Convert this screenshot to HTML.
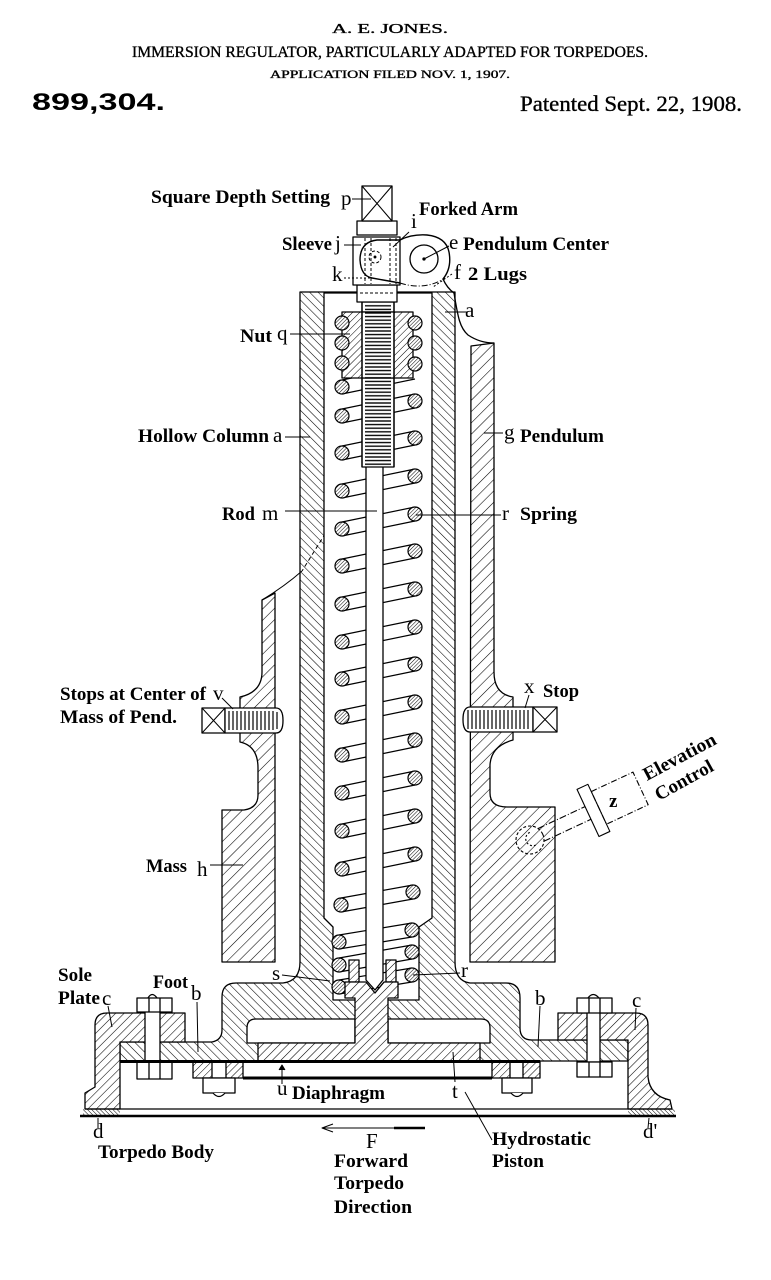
<!DOCTYPE html>
<html><head><meta charset="utf-8">
<style>
html,body{margin:0;padding:0;background:#fff}
svg{display:block}
.L{font-family:"Liberation Serif",serif;font-weight:bold;font-size:19px;fill:#000}
.l{font-family:"Liberation Serif",serif;font-size:21px;fill:#000}
.h{font-family:"Liberation Serif",serif;fill:#000;stroke:#000;stroke-width:0.35}
</style></head>
<body>
<svg width="771" height="1280" viewBox="0 0 771 1280" xmlns="http://www.w3.org/2000/svg">
<defs>
<pattern id="hb" patternUnits="userSpaceOnUse" width="6" height="6" patternTransform="rotate(-45)"><line x1="0" y1="0" x2="0" y2="6" stroke="#000" stroke-width="1.1"/></pattern>
<pattern id="hf" patternUnits="userSpaceOnUse" width="6" height="6" patternTransform="rotate(45)"><rect width="6" height="6" fill="#fff"/><line x1="0" y1="0" x2="0" y2="6" stroke="#000" stroke-width="1.1"/></pattern>
<pattern id="hn" patternUnits="userSpaceOnUse" width="5" height="5" patternTransform="rotate(45)"><rect width="5" height="5" fill="#fff"/><line x1="0" y1="0" x2="0" y2="5" stroke="#000" stroke-width="1"/></pattern>
<pattern id="hm" patternUnits="userSpaceOnUse" width="8" height="8" patternTransform="rotate(45)"><line x1="0" y1="0" x2="0" y2="8" stroke="#000" stroke-width="1.1"/></pattern>
<pattern id="hc" patternUnits="userSpaceOnUse" width="2.6" height="2.6" patternTransform="rotate(45)"><rect width="2.6" height="2.6" fill="#fff"/><line x1="0" y1="0" x2="0" y2="2.6" stroke="#000" stroke-width="1"/></pattern>
<pattern id="hd" patternUnits="userSpaceOnUse" width="3" height="3" patternTransform="rotate(-45)"><line x1="0" y1="0" x2="0" y2="3" stroke="#000" stroke-width="1"/></pattern>
<pattern id="thr" patternUnits="userSpaceOnUse" x="362" y="304" width="32" height="3.6"><line x1="3" y1="1.8" x2="29" y2="1.8" stroke="#000" stroke-width="1.3"/></pattern>
</defs>
<rect width="771" height="1280" fill="#fff"/>

<!-- HEADER -->
<text class="h" x="332" y="33" font-size="14" textLength="116" lengthAdjust="spacingAndGlyphs">A. E. JONES.</text>
<text class="h" x="132" y="57" font-size="16" textLength="516" lengthAdjust="spacingAndGlyphs">IMMERSION REGULATOR, PARTICULARLY ADAPTED FOR TORPEDOES.</text>
<text class="h" x="270" y="78" font-size="11.5" textLength="240" lengthAdjust="spacingAndGlyphs">APPLICATION FILED NOV. 1, 1907.</text>
<text x="32" y="110" font-family="Liberation Sans, sans-serif" font-weight="bold" font-size="24" textLength="133" lengthAdjust="spacingAndGlyphs">899,304.</text>
<text class="h" x="520" y="111" font-size="22" textLength="222" lengthAdjust="spacingAndGlyphs">Patented Sept. 22, 1908.</text>

<g stroke="#000" stroke-width="1.3" fill="none" stroke-linejoin="round">

<!-- pendulum left -->
<path d="M262,600 L275,593 L275,962 L222,962 L222,810 L244,810 Q258,808 258,795 L258,768 Q258,746 240,742 L240,697 Q262,692 262,672 Z" fill="url(#hm)"/>
<!-- pendulum right -->
<path d="M471,346 L494,343 L494,672 Q494,694 513,697 L513,740 Q491,746 490,765 L490,793 Q490,807 507,807 L555,807 L555,962 L470,962 L471,346 Z" fill="url(#hm)"/>
<path d="M454,293 C458,318 460,328 468,335 Q480,343 494,343"/>
<path d="M366,468 L302,571" stroke-dasharray="4,3" stroke-width="1"/>
<path d="M302,571 Q285,586 262,600" stroke-width="1"/>

<!-- column casting -->
<path d="M300,292 L455,292 L455,962 Q455,981 470,983 L506,983 Q520,983 520,998 L520,1028 Q520,1040 532,1040 L628,1040 L628,1061 L120,1061 L120,1042 L212,1042 Q222,1040 222,1030 L222,997 Q222,983 236,983 L283,983 Q300,981 300,962 Z" fill="url(#hb)"/>
<!-- cavity -->
<path d="M324,293 L432,293 L432,918 L419,927 L419,1000 L333,1000 L333,927 L324,918 Z" fill="#fff"/>
<!-- channel -->
<path d="M247,1043 L247,1028 Q247,1019 256,1019 L355,1019 L355,1043 Z" fill="#fff"/>
<path d="M388,1043 L388,1019 L481,1019 Q490,1019 490,1028 L490,1043 Z" fill="#fff"/>

<!-- spring back lines -->
<g stroke-width="1.2">
<path d="M342,380 L415,365 M342,394 L415,379
M342,409 L415,394 M342,423 L415,408
M342,446 L415,431 M342,460 L415,445
M342,484 L415,469 M342,498 L415,483
M342,522 L415,507 M342,536 L415,521
M342,559 L415,544 M342,573 L415,558
M342,597 L415,582 M342,611 L415,596
M342,635 L415,620 M342,649 L415,634
M342,672 L415,657 M342,686 L415,671
M342,710 L415,695 M342,724 L415,709
M342,748 L415,733 M342,762 L415,747
M342,786 L415,771 M342,800 L415,785
M342,824 L415,809 M342,838 L415,823
M342,862 L415,847 M342,876 L415,861
M341,898 L413,885 M341,912 L413,899
M339,935 L412,923 M339,949 L412,937
M339,958 L412,945 M339,972 L412,959
M339,980 L412,968 M339,994 L412,982"/>
</g>

<!-- rod -->
<path d="M366,466 L383,466 L383,980 L375,990 L366,980 Z" fill="#fff"/>
<rect x="362" y="302" width="32" height="165" fill="#fff"/>
<rect x="362" y="304" width="32" height="162" fill="url(#thr)" stroke="none"/>
<!-- nut -->
<rect x="342" y="312" width="71" height="66" fill="url(#hn)"/>
<rect x="362" y="312" width="32" height="66" fill="#fff"/>
<rect x="362" y="312" width="32" height="66" fill="url(#thr)" stroke="none"/>
<line x1="362" y1="302" x2="362" y2="467"/><line x1="394" y1="302" x2="394" y2="467"/>

<!-- coil circles -->
<g fill="url(#hc)" stroke-width="1.2">
<circle cx="342" cy="323" r="7"/><circle cx="342" cy="343" r="7"/><circle cx="342" cy="363" r="7"/>
<circle cx="415" cy="323" r="7"/><circle cx="415" cy="343" r="7"/><circle cx="415" cy="364" r="7"/>
<circle cx="342" cy="387" r="7"/>
<circle cx="342" cy="416" r="7"/><circle cx="415" cy="401" r="7"/>
<circle cx="342" cy="453" r="7"/><circle cx="415" cy="438" r="7"/>
<circle cx="342" cy="491" r="7"/><circle cx="415" cy="476" r="7"/>
<circle cx="342" cy="529" r="7"/><circle cx="415" cy="514" r="7"/>
<circle cx="342" cy="566" r="7"/><circle cx="415" cy="551" r="7"/>
<circle cx="342" cy="604" r="7"/><circle cx="415" cy="589" r="7"/>
<circle cx="342" cy="642" r="7"/><circle cx="415" cy="627" r="7"/>
<circle cx="342" cy="679" r="7"/><circle cx="415" cy="664" r="7"/>
<circle cx="342" cy="717" r="7"/><circle cx="415" cy="702" r="7"/>
<circle cx="342" cy="755" r="7"/><circle cx="415" cy="740" r="7"/>
<circle cx="342" cy="793" r="7"/><circle cx="415" cy="778" r="7"/>
<circle cx="342" cy="831" r="7"/><circle cx="415" cy="816" r="7"/>
<circle cx="342" cy="869" r="7"/><circle cx="415" cy="854" r="7"/>
<circle cx="341" cy="905" r="7"/><circle cx="413" cy="892" r="7"/>
<circle cx="339" cy="942" r="7"/><circle cx="412" cy="930" r="7"/>
<circle cx="339" cy="965" r="7"/><circle cx="412" cy="952" r="7"/>
<circle cx="339" cy="987" r="7"/><circle cx="412" cy="975" r="7"/>
</g>

<!-- seat cups -->
<rect x="349" y="960" width="10" height="22" fill="url(#hn)"/>
<rect x="386" y="960" width="10" height="22" fill="url(#hn)"/>
<!-- piston -->
<path d="M258,1043 L355,1043 L355,998 L345,998 L345,982 L366,982 L375,993 L384,982 L398,982 L398,998 L388,998 L388,1043 L480,1043 L480,1061 L258,1061 Z" fill="url(#hf)"/>

<!-- sole plates -->
<path d="M107,1013 L185,1013 L185,1042 L120,1042 L120,1109 L85,1109 L85,1093 L95,1087 L95,1025 Q95,1013 107,1013 Z" fill="url(#hf)"/>
<path d="M558,1013 L636,1013 Q648,1013 648,1025 L648,1077 Q650,1096 670,1100 L672,1109 L628,1109 L628,1040 L558,1040 Z" fill="url(#hf)"/>
<!-- bolts -->
<rect x="145" y="1011" width="15" height="51" fill="#fff"/>
<path d="M148,998 Q152,991 157,998" fill="#fff"/>
<rect x="137" y="998" width="35" height="14" fill="#fff"/>
<line x1="149" y1="998" x2="149" y2="1012"/><line x1="160" y1="998" x2="160" y2="1012"/>
<rect x="137" y="1062" width="35" height="17" fill="#fff"/>
<line x1="149" y1="1062" x2="149" y2="1079"/><line x1="160" y1="1062" x2="160" y2="1079"/>
<rect x="587" y="1011" width="13" height="51" fill="#fff"/>
<path d="M588,998 Q593,991 599,998" fill="#fff"/>
<rect x="577" y="998" width="35" height="15" fill="#fff"/>
<line x1="589" y1="998" x2="589" y2="1013"/><line x1="600" y1="998" x2="600" y2="1013"/>
<rect x="577" y="1062" width="35" height="15" fill="#fff"/>
<line x1="589" y1="1062" x2="589" y2="1077"/><line x1="600" y1="1062" x2="600" y2="1077"/>

<!-- clamps -->
<rect x="193" y="1062" width="50" height="16" fill="url(#hn)"/>
<rect x="212" y="1062" width="14" height="16" fill="#fff"/>
<rect x="203" y="1078" width="32" height="15" fill="#fff"/>
<path d="M213,1093 Q219,1100 225,1093" fill="#fff"/>
<rect x="492" y="1062" width="48" height="16" fill="url(#hn)"/>
<rect x="510" y="1062" width="13" height="16" fill="#fff"/>
<rect x="502" y="1078" width="30" height="15" fill="#fff"/>
<path d="M511,1093 Q517,1100 523,1093" fill="#fff"/>

<!-- diaphragm -->
<line x1="120" y1="1061.5" x2="540" y2="1061.5" stroke-width="3"/>
<line x1="243" y1="1078" x2="492" y2="1078" stroke-width="3"/>
<!-- body -->
<line x1="85" y1="1109" x2="672" y2="1109" stroke-width="1.2"/>
<line x1="80" y1="1116" x2="676" y2="1116" stroke-width="2.6"/>
<rect x="83" y="1109" width="37" height="6" fill="url(#hd)" stroke="none"/>
<rect x="628" y="1109" width="47" height="6" fill="url(#hd)" stroke="none"/>

<!-- top assembly -->
<rect x="357" y="285" width="40" height="17" fill="#fff"/>
<line x1="360" y1="293" x2="394" y2="293" stroke-dasharray="3,2" stroke-width="1"/>
<rect x="353" y="237" width="47" height="48" fill="#fff"/>
<rect x="357" y="221" width="40" height="14" fill="#fff"/>
<rect x="362" y="186" width="30" height="35" fill="#fff"/>
<path d="M362,186 L392,221 M392,186 L362,221" stroke-width="1.1"/>
<g stroke-width="1" stroke-dasharray="3,2">
<line x1="365" y1="238" x2="365" y2="284"/><line x1="371" y1="238" x2="371" y2="284"/>
<line x1="390" y1="238" x2="390" y2="284"/><line x1="396" y1="238" x2="396" y2="284"/>
<circle cx="375" cy="257" r="6"/>
</g>
<circle cx="375" cy="257" r="0.8" fill="#000"/>
<path d="M400,240 L377,240 Q360,242 360,260 Q361,276 372,278 L400,283" stroke-width="1.4"/>
<path d="M400,240 Q412,234 427,235 Q446,237 449,252 Q452,268 443,279 Q447,288 454,293" stroke-width="1.4"/>
<path d="M400,283 Q425,291 445,278" stroke-dasharray="6,2,1,2" stroke-width="1"/>
<circle cx="424" cy="259" r="14"/>
<circle cx="424" cy="259" r="1" fill="#000"/>

<!-- stops -->
<rect x="202" y="708" width="23" height="25" fill="#fff"/>
<path d="M202,708 L225,733 M225,708 L202,733" stroke-width="1"/>
<path d="M225,708 L276,708 Q283,708 283,720.5 Q283,733 276,733 L225,733 Z" fill="#fff"/>
<path d="M229,711V730M233,711V730M237,711V730M241,711V730M245,711V730M249,711V730M253,711V730M257,711V730M261,711V730M265,711V730M269,711V730M273,711V730M277,712V729" stroke-width="1.2"/>
<path d="M533,707 L470,707 Q463,707 463,719.5 Q463,732 470,732 L533,732 Z" fill="#fff"/>
<path d="M468,710V729M472,710V729M476,710V729M480,710V729M484,710V729M488,710V729M492,710V729M496,710V729M500,710V729M504,710V729M508,710V729M512,710V729M516,710V729M520,710V729M524,710V729M528,710V729" stroke-width="1.2"/>
<rect x="533" y="707" width="24" height="25" fill="#fff"/>
<path d="M533,707 L557,732 M557,707 L533,732" stroke-width="1"/>

<!-- elevation control -->
<g transform="translate(530,840) rotate(-25)" stroke-width="1.1">
<circle r="14" stroke-dasharray="3,2"/>
<path d="M3,-7 A7,7 0 1,0 3,7" stroke-dasharray="2,2"/>
<line x1="12" y1="-7" x2="64" y2="-7" stroke-dasharray="7,2,1,2"/>
<line x1="12" y1="7" x2="64" y2="7" stroke-dasharray="7,2,1,2"/>
<rect x="64" y="-26" width="12" height="52" fill="#fff"/>
<rect x="76" y="-18" width="46" height="36" stroke-dasharray="6,2,1,2"/>
</g>

<!-- leaders -->
<g stroke-width="1">
<line x1="352" y1="199" x2="371" y2="199"/>
<line x1="409" y1="232" x2="393" y2="247"/>
<line x1="344" y1="245" x2="361" y2="245"/>
<line x1="449" y1="246" x2="424" y2="259"/>
<line x1="344" y1="278" x2="370" y2="278" stroke-dasharray="2,2"/>
<line x1="452" y1="274" x2="433" y2="287" stroke-dasharray="2,2"/>
<line x1="445" y1="312" x2="467" y2="312"/>
<line x1="290" y1="334" x2="350" y2="334"/>
<line x1="285" y1="437" x2="310" y2="437"/>
<line x1="484" y1="433" x2="503" y2="433"/>
<line x1="285" y1="511" x2="377" y2="511"/>
<line x1="416" y1="515" x2="501" y2="515"/>
<line x1="222" y1="698" x2="233" y2="709"/>
<line x1="529" y1="695" x2="525" y2="708"/>
<line x1="210" y1="865" x2="243" y2="865"/>
<line x1="282" y1="975" x2="330" y2="981"/>
<line x1="460" y1="973" x2="413" y2="975"/>
<line x1="108" y1="1006" x2="112" y2="1027"/>
<line x1="197" y1="1002" x2="198" y2="1052"/>
<line x1="540" y1="1006" x2="538" y2="1047"/>
<line x1="636" y1="1008" x2="635" y2="1030"/>
<line x1="282" y1="1084" x2="282" y2="1066"/>
<path d="M279,1070 L282,1065 L285,1070" fill="#000"/>
<line x1="455" y1="1082" x2="453" y2="1052"/>
<line x1="465" y1="1092" x2="492" y2="1140"/>
<line x1="98" y1="1128" x2="98" y2="1118"/>
<line x1="648" y1="1128" x2="649" y2="1118"/>
<line x1="322" y1="1128" x2="395" y2="1128"/>
<line x1="394" y1="1128" x2="425" y2="1128" stroke-width="2.6"/>
<path d="M333,1124 L322,1128 L333,1132"/>
</g>
</g>

<!-- LABELS -->
<text class="L" x="151" y="203" textLength="179" lengthAdjust="spacingAndGlyphs">Square Depth Setting</text>
<text class="L" x="419" y="215" textLength="99" lengthAdjust="spacingAndGlyphs">Forked Arm</text>
<text class="L" x="282" y="250" textLength="50" lengthAdjust="spacingAndGlyphs">Sleeve</text>
<text class="L" x="463" y="250" textLength="146" lengthAdjust="spacingAndGlyphs">Pendulum Center</text>
<text class="L" x="468" y="280" textLength="59" lengthAdjust="spacingAndGlyphs">2 Lugs</text>
<text class="L" x="240" y="342" textLength="32" lengthAdjust="spacingAndGlyphs">Nut</text>
<text class="L" x="138" y="442" textLength="131" lengthAdjust="spacingAndGlyphs">Hollow Column</text>
<text class="L" x="520" y="442" textLength="84" lengthAdjust="spacingAndGlyphs">Pendulum</text>
<text class="L" x="222" y="520" textLength="33" lengthAdjust="spacingAndGlyphs">Rod</text>
<text class="L" x="520" y="520" textLength="57" lengthAdjust="spacingAndGlyphs">Spring</text>
<text class="L" x="60" y="700" textLength="146" lengthAdjust="spacingAndGlyphs">Stops at Center of</text>
<text class="L" x="60" y="723" textLength="117" lengthAdjust="spacingAndGlyphs">Mass of Pend.</text>
<text class="L" x="543" y="697" textLength="36" lengthAdjust="spacingAndGlyphs">Stop</text>
<text class="L" x="146" y="872" textLength="41" lengthAdjust="spacingAndGlyphs">Mass</text>
<text class="L" x="58" y="981" textLength="34" lengthAdjust="spacingAndGlyphs">Sole</text>
<text class="L" x="58" y="1004" textLength="42" lengthAdjust="spacingAndGlyphs">Plate</text>
<text class="L" x="153" y="988" textLength="35" lengthAdjust="spacingAndGlyphs">Foot</text>
<text class="L" x="292" y="1099" textLength="93" lengthAdjust="spacingAndGlyphs">Diaphragm</text>
<text class="L" x="98" y="1158" textLength="116" lengthAdjust="spacingAndGlyphs">Torpedo Body</text>
<text class="L" x="334" y="1167" textLength="74" lengthAdjust="spacingAndGlyphs">Forward</text>
<text class="L" x="334" y="1189" textLength="70" lengthAdjust="spacingAndGlyphs">Torpedo</text>
<text class="L" x="334" y="1213" textLength="78" lengthAdjust="spacingAndGlyphs">Direction</text>
<text class="L" x="492" y="1145" textLength="99" lengthAdjust="spacingAndGlyphs">Hydrostatic</text>
<text class="L" x="492" y="1167" textLength="52" lengthAdjust="spacingAndGlyphs">Piston</text>
<text class="L" transform="translate(647,781) rotate(-28)" textLength="80" lengthAdjust="spacingAndGlyphs">Elevation</text>
<text class="L" transform="translate(659,801) rotate(-29)" textLength="64" lengthAdjust="spacingAndGlyphs">Control</text>
<text class="L" x="609" y="807" font-size="16">z</text>

<!-- letters -->
<text class="l" x="341" y="205">p</text>
<text class="l" x="411" y="228">i</text>
<text class="l" x="335" y="250">j</text>
<text class="l" x="449" y="249">e</text>
<text class="l" x="332" y="281">k</text>
<text class="l" x="454" y="279">f</text>
<text class="l" x="465" y="317">a</text>
<text class="l" x="277" y="340">q</text>
<text class="l" x="273" y="442">a</text>
<text class="l" x="504" y="439">g</text>
<text class="l" x="262" y="520">m</text>
<text class="l" x="502" y="520">r</text>
<text class="l" x="213" y="700">v</text>
<text class="l" x="524" y="693">x</text>
<text class="l" x="197" y="876">h</text>
<text class="l" x="272" y="980">s</text>
<text class="l" x="461" y="977">r</text>
<text class="l" x="102" y="1005">c</text>
<text class="l" x="191" y="1000">b</text>
<text class="l" x="535" y="1005">b</text>
<text class="l" x="632" y="1007">c</text>
<text class="l" x="277" y="1095">u</text>
<text class="l" x="452" y="1098">t</text>
<text class="l" x="93" y="1138">d</text>
<text class="l" x="643" y="1138">d'</text>
<text class="l" x="366" y="1148">F</text>
</svg>
</body></html>
